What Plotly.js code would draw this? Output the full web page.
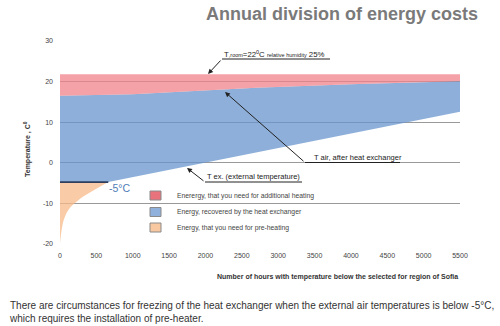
<!DOCTYPE html>
<html>
<head>
<meta charset="utf-8">
<script src="https://cdn.plot.ly/plotly-3.0.1.min.js"></script>
<style>html,body{margin:0;padding:0;background:#fff;}#chart{width:500px;height:326px;}</style>
</head>
<body>
<div id="chart"></div>
<script>
// Data
const roomHours = [0, 5500];
const roomTemp = [21.8, 21.8];
const airHours = [0, 1000, 2700, 4100, 5500];
const airTemp = [16.5, 16.9, 18.5, 19.4, 20.1];
const extHours = [0, 664, 5500];
const extTemp = [-4.75, -4.75, 12.6];
const freezeHours = [0, 664];
const freezeTemp = [-4.75, -4.75];
const preHours = [0, 31, 69, 137, 206, 320, 458, 596, 664];
const preTemp = [-19.8, -15.6, -13.2, -11.1, -9.9, -8.3, -6.8, -5.4, -4.75];
const xTicks = [0, 500, 1000, 1500, 2000, 2500, 3000, 3500, 4000, 4500, 5000, 5500];
const yTicks = [-20, -10, 0, 10, 20, 30];
const legendLabels = [
  "Enerergy, that you need for additional heating",
  "Energy, recovered by the heat exchanger",
  "Energy, that you need for pre-heating"
];

const blueFill = 'rgba(103,148,204,0.75)';
const redFill = 'rgba(240,130,138,0.75)';
const orangeFill = 'rgba(247,186,136,0.75)';

const traces = [
  {x: extHours, y: extTemp, type: 'scatter', mode: 'lines', line: {width: 0}, hoverinfo: 'skip'},
  {x: airHours, y: airTemp, type: 'scatter', mode: 'lines', fill: 'tonexty', fillcolor: blueFill, line: {width: 0}},
  {x: roomHours, y: roomTemp, type: 'scatter', mode: 'lines', fill: 'tonexty', fillcolor: redFill, line: {width: 0}},
  {x: freezeHours, y: freezeTemp, type: 'scatter', mode: 'lines', line: {width: 0}},
  {x: preHours, y: preTemp, type: 'scatter', mode: 'lines', fill: 'tonexty', fillcolor: orangeFill, line: {width: 0, shape: 'spline'}},
  {x: freezeHours, y: freezeTemp, type: 'scatter', mode: 'lines', line: {width: 1.6, color: '#2e3f5e'}}
];

const txt = '#444';
const font = 'Liberation Sans, Arial, sans-serif';

// pixel helpers for annotation placement (paper coords)
const px = v => (v - 60) / 400;
const py = v => (244 - v) / 203;

const legendColors = ['#e9737d', '#8fb1dc', '#f8c8a1'];
const legendY = [195.5, 212, 227.5];

const shapes = [
  {type: 'line', xref: 'paper', yref: 'paper', x0: px(222), x1: px(330), y0: py(59), y1: py(59), line: {color: '#222', width: 1}},
  {type: 'line', xref: 'paper', yref: 'paper', x0: px(305), x1: px(400), y0: py(162.5), y1: py(162.5), line: {color: '#222', width: 1}},
  {type: 'line', xref: 'paper', yref: 'paper', x0: px(205), x1: px(302), y0: py(182), y1: py(182), line: {color: '#222', width: 1}}
];
legendY.forEach((c, i) => {
  shapes.push({type: 'rect', xref: 'paper', yref: 'paper', x0: px(150), x1: px(161), y0: py(c - 4.5), y1: py(c + 4.5),
    fillcolor: legendColors[i], line: {color: '#8a8a8a', width: 1}});
});

const arrow = (hx, hy, tx, ty) => ({xref: 'paper', yref: 'paper', x: px(hx), y: py(hy), axref: 'paper', ayref: 'paper',
  ax: px(tx), ay: py(ty), text: '', showarrow: true, arrowhead: 2, arrowsize: 1, arrowwidth: 1, arrowcolor: '#222',
  standoff: 0, startstandoff: 0});

const annotations = [
  {xref: 'paper', yref: 'paper', x: px(222), y: py(54), xanchor: 'left', yanchor: 'middle', showarrow: false,
   text: "T<span style='font-size:5.5px'>,room</span>=22<sup>0</sup>C <span style='font-size:5.5px'>relative humidity</span> 25%",
   font: {family: font, size: 7.8, color: '#222'}},
  {xref: 'paper', yref: 'paper', x: px(312), y: py(157), xanchor: 'left', yanchor: 'middle', showarrow: false,
   text: 'T air, after heat exchanger', font: {family: font, size: 7.5, color: '#222'}},
  {xref: 'paper', yref: 'paper', x: px(205), y: py(176.5), xanchor: 'left', yanchor: 'middle', showarrow: false,
   text: 'T ex. (external temperature)', font: {family: font, size: 7.5, color: '#222'}},
  {xref: 'paper', yref: 'paper', x: px(107), y: py(188), xanchor: 'left', yanchor: 'middle', showarrow: false,
   text: '-5°C', font: {family: font, size: 10.5, color: '#4f7db8'}},
  arrow(208, 74, 222, 59),
  arrow(225, 92, 305, 162.5),
  arrow(187, 168, 205, 182),
  // axis titles
  {xref: 'paper', yref: 'paper', x: px(460), y: py(277), xanchor: 'right', yanchor: 'middle', showarrow: false,
   text: '<b>Number of hours with temperature below the selected for region of Sofia</b>', font: {family: font, size: 7, color: '#333'}},
  {xref: 'paper', yref: 'paper', x: px(27), y: py(149), xanchor: 'center', yanchor: 'middle', showarrow: false, textangle: -90,
   text: '<b>Temperature , C<sup>0</sup></b>', font: {family: font, size: 7, color: '#333'}},
  // footnote
  {xref: 'paper', yref: 'paper', x: px(7), y: py(311.5), xanchor: 'left', yanchor: 'middle', showarrow: false, align: 'left',
   text: 'There are circumstances for freezing of the heat exchanger when the external air temperatures is below -5°C,<br>which requires the installation of pre-heater.',
   font: {family: font, size: 10, color: '#333'}}
];
legendLabels.forEach((t, i) => {
  annotations.push({xref: 'paper', yref: 'paper', x: px(175), y: py(legendY[i]), xanchor: 'left', yanchor: 'middle', showarrow: false,
    text: t, font: {family: font, size: 6.8, color: txt}});
});

const layout = {
  width: 500, height: 326,
  margin: {l: 60, r: 40, t: 41, b: 82, pad: 0},
  paper_bgcolor: '#fff', plot_bgcolor: '#fff',
  showlegend: false,
  title: {text: '<b>Annual division of energy costs</b>', xref: 'container', x: 478 / 500, xanchor: 'right',
          yref: 'container', y: 1 - 14 / 326, yanchor: 'middle',
          font: {family: font, size: 18, color: '#7a7a7a'}},
  xaxis: {range: [0, 5500], tickvals: xTicks, ticktext: xTicks.map(String), showgrid: false, zeroline: false, showline: false,
          ticks: '', ticklabelstandoff: 6, tickfont: {family: font, size: 7, color: txt}, fixedrange: true},
  yaxis: {range: [-20, 30], tickvals: yTicks, ticktext: yTicks.map(String), showgrid: true, gridcolor: '#999', gridwidth: 1.2,
          zeroline: false, showline: false, ticks: '', ticklabelstandoff: 6, tickfont: {family: font, size: 7, color: txt}, fixedrange: true},
  shapes: shapes,
  annotations: annotations
};

Plotly.newPlot('chart', traces, layout, {displayModeBar: false, staticPlot: true});
</script>
</body>
</html>
